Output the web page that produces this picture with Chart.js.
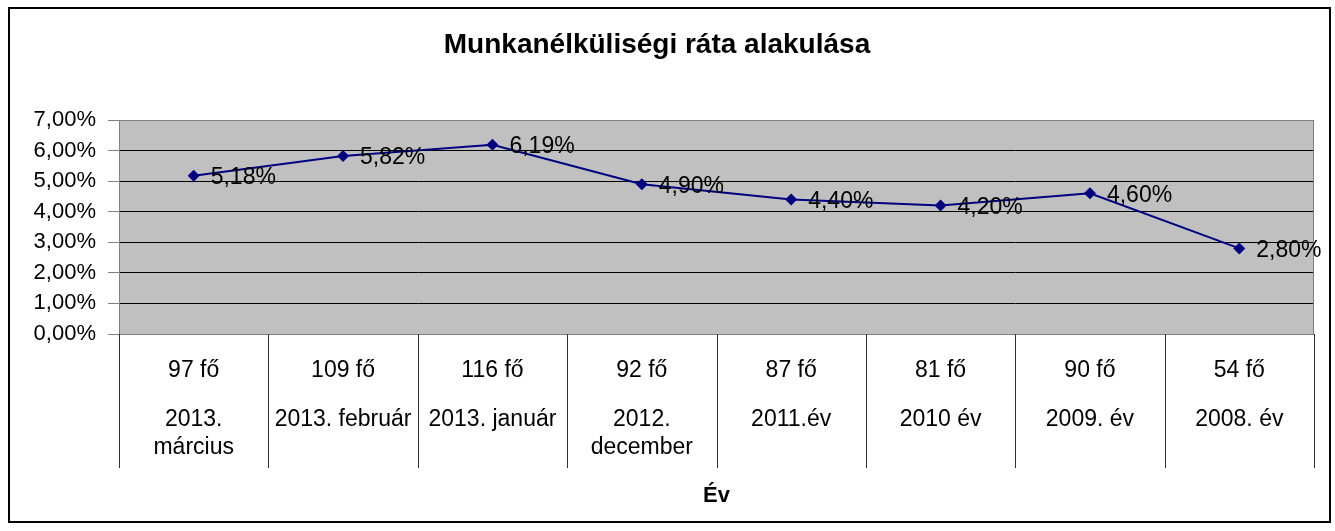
<!DOCTYPE html>
<html>
<head>
<meta charset="utf-8">
<script src="https://cdn.jsdelivr.net/npm/chart.js@4.4.1/dist/chart.umd.min.js"></script>
<style>
  html, body { margin: 0; padding: 0; background: #fff; }
</style>
</head>
<body>
<canvas id="grafico" width="1335" height="531"></canvas>
<script>
// Adatok
const letszam = ['97 fő', '109 fő', '116 fő', '92 fő', '87 fő', '81 fő', '90 fő', '54 fő'];
const idoszak = [
  ['2013.', 'március'],
  ['2013. február'],
  ['2013. január'],
  ['2012.', 'december'],
  ['2011.év'],
  ['2010 év'],
  ['2009. év'],
  ['2008. év']
];
const rata = [5.18, 5.82, 6.19, 4.90, 4.40, 4.20, 4.60, 2.80];
const yTicks = [0, 1, 2, 3, 4, 5, 6, 7];

const cim = 'Munkanélküliségi ráta alakulása';
const tengelyCim = 'Év';

const BETU = '"Liberation Sans", Arial, sans-serif';

function szazalek(v) {
  return v.toFixed(2).replace('.', ',') + '%';
}

// keret, szürke háttér, kategória feliratok, adatcímkék
const keret = {
  id: 'keret',
  beforeDraw(chart) {
    const ctx = chart.ctx;
    const a = chart.chartArea;
    ctx.save();
    ctx.fillStyle = '#fff';
    ctx.fillRect(0, 0, chart.width, chart.height);
    ctx.fillStyle = '#C0C0C0';
    ctx.fillRect(a.left, a.top, a.right - a.left, a.bottom - a.top);
    ctx.restore();
  },
  beforeDatasetsDraw(chart) {
    const ctx = chart.ctx;
    const a = chart.chartArea;
    ctx.save();
    ctx.strokeStyle = '#808080';
    ctx.lineWidth = 1;
    ctx.strokeRect(a.left + 0.5, a.top + 0.5, a.right - a.left - 1, a.bottom - a.top);
    ctx.restore();
  },
  afterDraw(chart) {
    const ctx = chart.ctx;
    const a = chart.chartArea;
    const x = chart.scales.x;
    const n = letszam.length;
    const w = (a.right - a.left) / n;
    ctx.save();

    // külső keret
    ctx.strokeStyle = '#000';
    ctx.lineWidth = 2;
    ctx.strokeRect(9, 8, 1321, 514);

    // elválasztók a kategóriák között
    ctx.strokeStyle = '#303030';
    ctx.lineWidth = 1;
    for (let i = 0; i <= n; i++) {
      const px = Math.round(a.left + i * w) + 0.5;
      ctx.beginPath();
      ctx.moveTo(px, a.bottom);
      ctx.lineTo(px, 468);
      ctx.stroke();
    }

    // kategória feliratok
    ctx.fillStyle = '#000';
    ctx.textAlign = 'center';
    ctx.textBaseline = 'middle';
    ctx.font = '23px ' + BETU;
    for (let i = 0; i < n; i++) {
      const cx = x.getPixelForValue(i);
      ctx.fillText(letszam[i], cx, 371);
      idoszak[i].forEach((sor, j) => ctx.fillText(sor, cx, 420 + j * 28));
    }

    // tengely cím
    ctx.font = 'bold 22px ' + BETU;
    ctx.textBaseline = 'alphabetic';
    ctx.fillText(tengelyCim, (a.left + a.right) / 2, 502);

    // diagram cím
    ctx.font = 'bold 28px ' + BETU;
    ctx.fillText(cim, 657, 53);

    // adatcímkék
    ctx.textAlign = 'left';
    ctx.textBaseline = 'middle';
    ctx.font = '23px ' + BETU;
    const meta = chart.getDatasetMeta(0);
    meta.data.forEach((p, i) => {
      ctx.fillText(szazalek(rata[i]), p.x + 17, p.y + 2);
    });
    ctx.restore();
  }
};

new Chart(document.getElementById('grafico'), {
  type: 'line',
  data: {
    labels: idoszak.map(s => s.join(' ')),
    datasets: [{
      data: rata,
      borderColor: '#000080',
      backgroundColor: '#000080',
      borderWidth: 2,
      pointStyle: 'rectRot',
      pointRadius: 6,
      pointBorderWidth: 0,
      tension: 0,
      fill: false
    }]
  },
  options: {
    responsive: false,
    animation: false,
    devicePixelRatio: 1,
    layout: { padding: { top: 120, right: 21, left: 0, bottom: 0 } },
    plugins: {
      legend: { display: false },
      tooltip: { enabled: false },
      title: { display: false }
    },
    scales: {
      x: {
        type: 'category',
        offset: true,
        grid: { display: false },
        border: { display: false },
        ticks: { display: false },
        afterFit: s => { s.height = 531 - 334; }
      },
      y: {
        min: 0,
        max: 7,
        afterBuildTicks: s => { s.ticks = yTicks.map(v => ({ value: v })); },
        afterFit: s => { s.width = 119; },
        grid: {
          color: c => (c.tick.value === 0 || c.tick.value === 7) ? '#808080' : '#000',
          tickColor: '#808080',
          tickLength: 11,
          lineWidth: 1
        },
        border: { color: '#808080' },
        ticks: {
          color: '#000',
          padding: 12,
          font: { family: BETU, size: 22 },
          callback: v => szazalek(v)
        }
      }
    }
  },
  plugins: [keret]
});
</script>
</body>
</html>
